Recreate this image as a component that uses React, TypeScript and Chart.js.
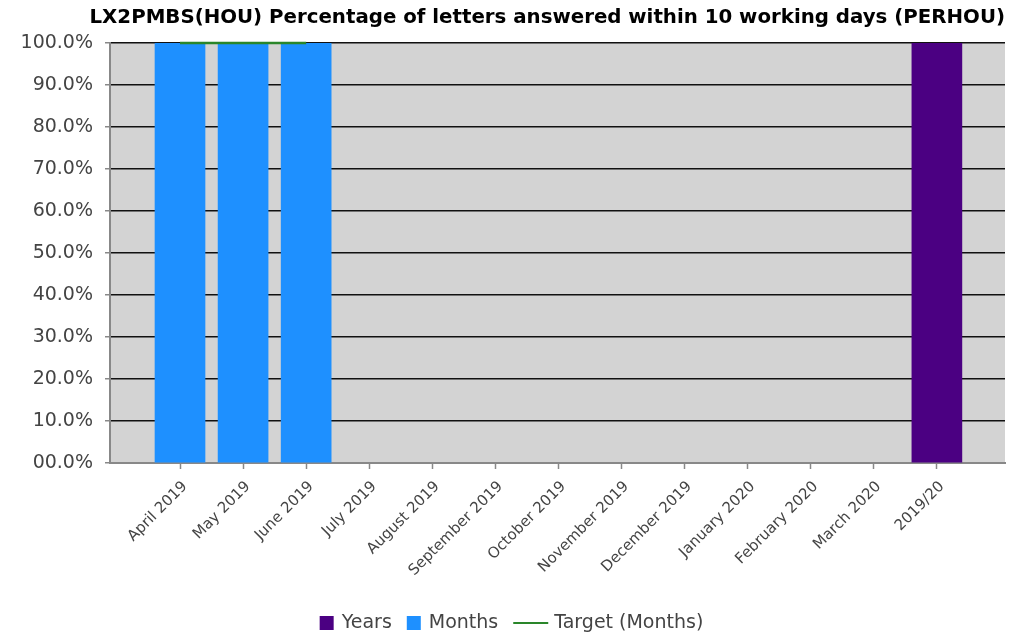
import React, { useEffect, useRef } from "react";
import { Chart, registerables } from "chart.js";

Chart.register(...registerables);

const chartTitle = "LX2PMBS(HOU) Percentage of letters answered within 10 working days (PERHOU)";

const categories = [
  "April 2019",
  "May 2019",
  "June 2019",
  "July 2019",
  "August 2019",
  "September 2019",
  "October 2019",
  "November 2019",
  "December 2019",
  "January 2020",
  "February 2020",
  "March 2020",
  "2019/20",
];

const yearsValues: (number | null)[] = [null, null, null, null, null, null, null, null, null, null, null, null, 100];
const monthsValues: (number | null)[] = [100, 100, 100, null, null, null, null, null, null, null, null, null, null];
const targetValues: (number | null)[] = [100, 100, 100, null, null, null, null, null, null, null, null, null, null];

const yTickValues = [0, 10, 20, 30, 40, 50, 60, 70, 80, 90, 100];
const yTickLabels = ["00.0%", "10.0%", "20.0%", "30.0%", "40.0%", "50.0%", "60.0%", "70.0%", "80.0%", "90.0%", "100.0%"];

const FONT = '"DejaVu Sans", Verdana, sans-serif';

const toPoints = (vals: (number | null)[]) =>
  vals
    .map((v, i) => (v === null ? null : { x: i, y: v }))
    .filter((p) => p !== null) as { x: number; y: number }[];

const plotBg = {
  id: "plotBg",
  beforeDraw(chart: any) {
    const { ctx, chartArea } = chart;
    ctx.save();
    ctx.fillStyle = "#d3d3d3";
    ctx.fillRect(chartArea.left, chartArea.top, chartArea.right - chartArea.left, chartArea.bottom - chartArea.top);
    ctx.restore();
  },
};

const customLegend = {
  id: "customLegend",
  afterDraw(chart: any) {
    const { ctx } = chart;
    const ds = chart.data.datasets;
    const order = [0, 1, 2];
    ctx.save();
    ctx.font = `19px ${FONT}`;
    ctx.textBaseline = "middle";
    const items = order.map((i) => {
      const d = ds[i];
      const isLine = d.type === "line";
      const markW = isLine ? 35 : 14;
      const gapMark = isLine ? 6 : 8;
      const textW = ctx.measureText(d.label).width;
      return { d, isLine, markW, gapMark, textW };
    });
    const gapItem = 15;
    let total = 0;
    items.forEach((it, k) => {
      total += it.markW + it.gapMark + it.textW + (k < items.length - 1 ? gapItem : 0);
    });
    let x = 511.5 - total / 2;
    const y = 623;
    items.forEach((it) => {
      if (it.isLine) {
        ctx.strokeStyle = it.d.borderColor;
        ctx.lineWidth = 2;
        ctx.beginPath();
        ctx.moveTo(x, y);
        ctx.lineTo(x + it.markW, y);
        ctx.stroke();
      } else {
        ctx.fillStyle = it.d.backgroundColor;
        ctx.fillRect(x, y - 7, 14, 14);
      }
      x += it.markW + it.gapMark;
      ctx.fillStyle = "#444";
      ctx.fillText(it.d.label, x, y);
      x += it.textW + gapItem;
    });
    ctx.restore();
  },
};

export default function App() {
  const canvasRef = useRef<HTMLCanvasElement | null>(null);

  useEffect(() => {
    if (!canvasRef.current) return;
    const chart = new Chart(canvasRef.current, {
      type: "bar",
      data: {
        datasets: [
          {
            type: "bar",
            label: "Years",
            data: toPoints(yearsValues),
            backgroundColor: "#4b0082",
            barThickness: 50,
            grouped: false,
            order: 2,
          } as any,
          {
            type: "bar",
            label: "Months",
            data: toPoints(monthsValues),
            backgroundColor: "#1e90ff",
            barThickness: 50,
            grouped: false,
            order: 1,
          } as any,
          {
            type: "line",
            label: "Target (Months)",
            data: toPoints(targetValues),
            borderColor: "#2a862a",
            backgroundColor: "#2a862a",
            borderWidth: 2.5,
            pointRadius: 0,
            clip: false,
            order: 0,
          } as any,
        ],
      },
      options: {
        animation: false,
        responsive: false,
        maintainAspectRatio: false,
        layout: { padding: { left: 0, right: 7, top: 0, bottom: 40 } },
        plugins: {
          legend: { display: false },
          tooltip: { enabled: false },
          title: {
            display: true,
            text: chartTitle,
            align: "end",
            color: "#000",
            font: { family: FONT, size: 19.8, weight: "bold", lineHeight: 1.2 },
            padding: { top: 6, bottom: 13.2 },
          },
        },
        scales: {
          x: {
            type: "linear",
            offset: false,
            min: -1.11,
            max: 13.08,
            afterBuildTicks: (scale: any) => {
              scale.ticks = categories.map((_, i) => ({ value: i }));
            },
            afterFit: (scale: any) => {
              scale.height = 135;
            },
            ticks: {
              autoSkip: false,
              minRotation: 45,
              maxRotation: 45,
              color: "#444",
              padding: 9,
              labelOffset: 5,
              font: { family: FONT, size: 15 },
              callback: (value: any) => categories[value as number] ?? "",
            },
            grid: {
              offset: false,
              drawOnChartArea: false,
              drawTicks: true,
              tickLength: 6,
              tickColor: "#888",
              tickWidth: 1.5,
            },
            border: { color: "#888", width: 2 },
          },
          y: {
            min: 0,
            max: 100,
            afterBuildTicks: (scale: any) => {
              scale.ticks = yTickValues.map((v) => ({ value: v }));
            },
            afterFit: (scale: any) => {
              scale.width = 110;
            },
            ticks: {
              color: "#444",
              padding: 12,
              font: { family: FONT, size: 19 },
              callback: (value: any) => yTickLabels[yTickValues.indexOf(value as number)] ?? "",
            },
            grid: {
              color: "#111",
              lineWidth: 1.5,
              tickColor: "#888",
              tickLength: 5,
            },
            border: { color: "#888", width: 2 },
          },
        },
      },
      plugins: [plotBg, customLegend],
    });
    return () => chart.destroy();
  }, []);

  return (
    <div style={{ position: "fixed", left: 0, top: 0, width: 1012, height: 638, background: "#fff" }}>
      <canvas ref={canvasRef} width={1012} height={638} style={{ width: 1012, height: 638, display: "block" }} />
    </div>
  );
}
